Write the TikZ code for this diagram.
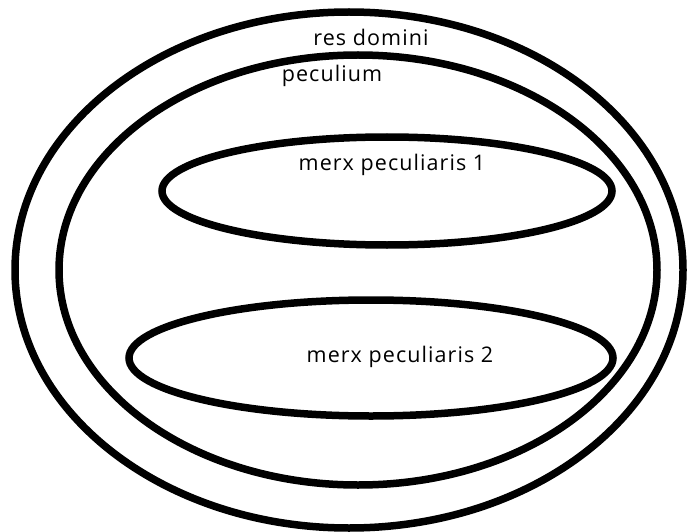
\documentclass[tikz,border=0pt]{standalone}
\usepackage{fontspec}
\setmainfont{Open Sans}[LetterSpace=5]
\usetikzlibrary{shapes.geometric}
\begin{document}
\begin{tikzpicture}[x=1pt,y=-1pt,
  ring/.style={draw=black,line width=7.5pt},
  lbl/.style={font=\fontsize{21.5}{24}\selectfont,text=black,inner sep=0pt}]
\useasboundingbox (0,0) rectangle (688,532);
\fill[white] (0,0) rectangle (688,532);
\draw[ring] (349,270) ellipse [x radius=334, y radius=258];
\draw[ring] (358,270) ellipse [x radius=299, y radius=215];
\draw[ring] (387,191) ellipse [x radius=225, y radius=54];
\draw[ring] (371,358) ellipse [x radius=242, y radius=58];
\node[lbl] (res) at (371,37) {res domini};
\node[lbl] (pec) at (332,76) {peculium};
\node[lbl] (m1) at (392,165) {merx peculiaris 1};
\node[lbl] (m2) at (400,357) {merx peculiaris 2};
\end{tikzpicture}
\end{document}
